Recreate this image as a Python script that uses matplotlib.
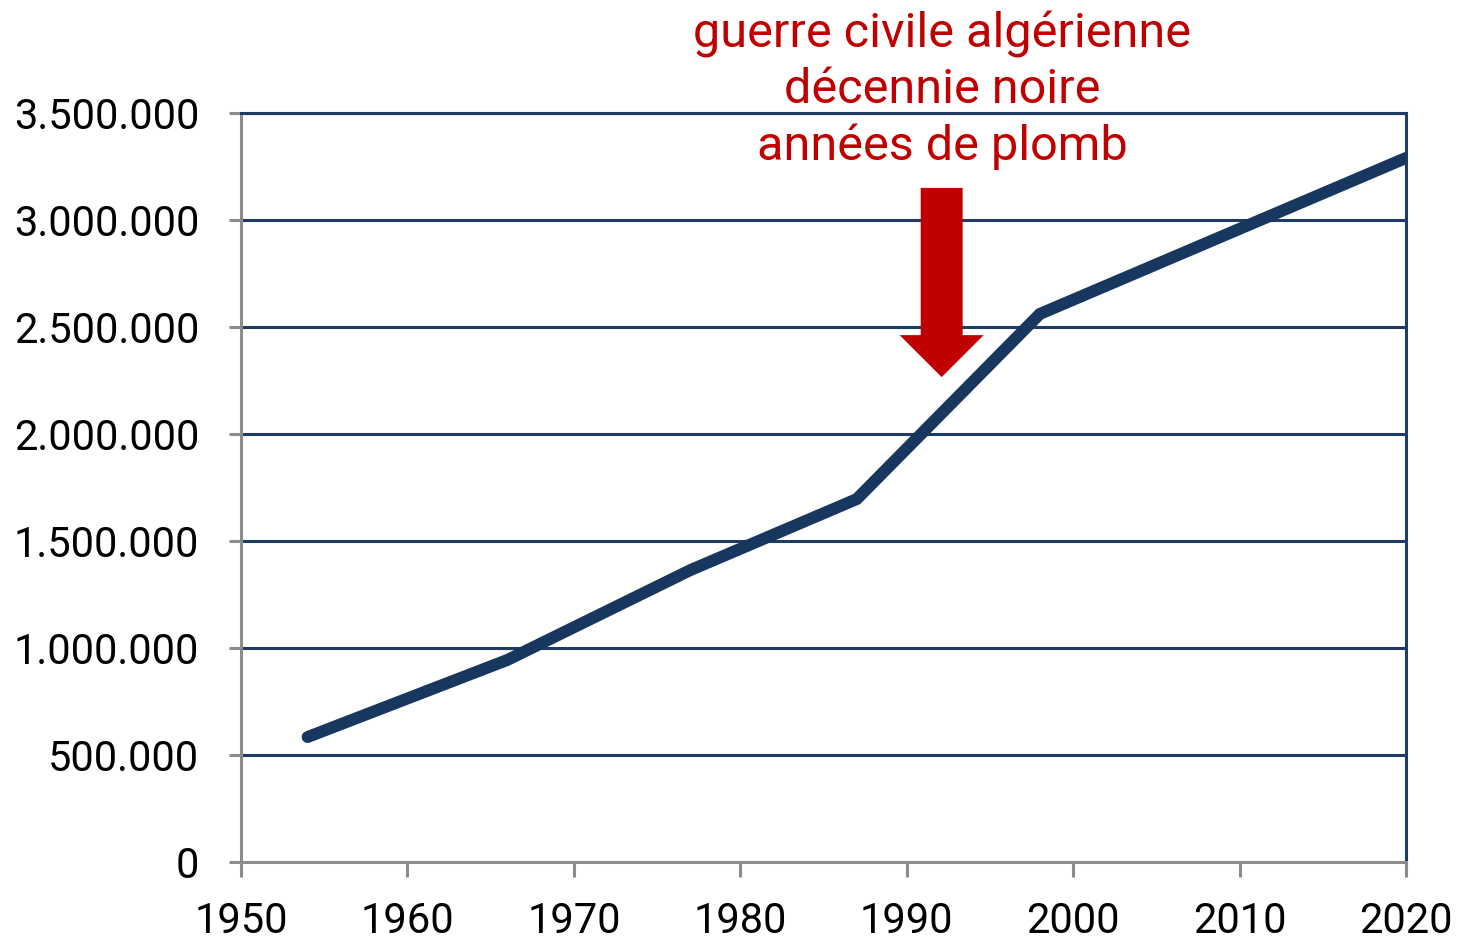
import matplotlib
matplotlib.use("Agg")
import matplotlib.pyplot as plt

plt.rcParams['font.family'] = ['Roboto', 'DejaVu Sans']

years = [1954, 1966, 1977, 1987, 1998, 2020]
population = [584000, 944000, 1364000, 1696000, 2561000, 3290000]
x_ticks = [1950, 1960, 1970, 1980, 1990, 2000, 2010, 2020]
y_ticks = [0, 500000, 1000000, 1500000, 2000000, 2500000, 3000000, 3500000]
annotation_lines = ["guerre civile algérienne", "décennie noire", "années de plomb"]
arrow_year = 1992.1
arrow_top = 3150000
arrow_tip = 2266000

navy = "#17375E"
grid_navy = "#1F3C64"
red = "#C00000"
gray = "#8C8C8C"

W, H = 1460, 943
fig = plt.figure(figsize=(W / 100, H / 100), dpi=100)
ax = fig.add_axes([241 / W, 1 - 862 / H, (1406 - 241) / W, (862 - 113) / H])

ax.set_xlim(1950, 2020)
ax.set_ylim(0, 3500000)

for yv in y_ticks[1:]:
    ax.axhline(yv, color=grid_navy, lw=2.2, zorder=1)

ax.plot(years, population, color=navy, lw=8.6, solid_capstyle='round',
        solid_joinstyle='miter', zorder=3, clip_on=True)

ax.set_xticks(x_ticks)
ax.set_yticks(y_ticks)

def fmt(v):
    return f"{int(v):,}".replace(",", ".")

ax.set_yticklabels([fmt(v) for v in y_ticks])
ax.set_xticklabels([str(v) for v in x_ticks])

ax.tick_params(axis='y', length=9, width=2.2, color=gray, pad=21,
               labelsize=30, labelcolor='black', direction='out')
ax.tick_params(axis='x', length=11, width=2.2, color=gray, pad=17,
               labelsize=30, labelcolor='black', direction='out')

for side in ['left', 'bottom']:
    ax.spines[side].set_color(gray)
    ax.spines[side].set_linewidth(2.2)
for side in ['top', 'right']:
    ax.spines[side].set_color(grid_navy)
    ax.spines[side].set_linewidth(2.2)

ax.annotate("", xy=(arrow_year, arrow_tip), xytext=(arrow_year, arrow_top),
            arrowprops=dict(width=30.2, headwidth=60.5, headlength=30.2,
                            shrink=0, facecolor=red, edgecolor='none', lw=0),
            annotation_clip=False, zorder=4)

line_baselines = [47, 103, 160]
for txt, yp in zip(annotation_lines, line_baselines):
    fig.text(942 / W, 1 - yp / H, txt, color=red, fontsize=35,
             ha='center', va='baseline')

fig.savefig("out.png", dpi=100)
